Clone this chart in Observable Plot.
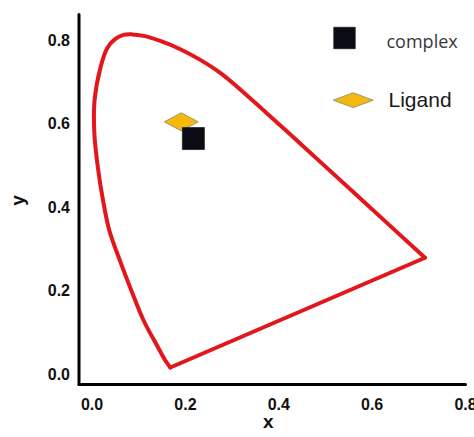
<!DOCTYPE html>
<html>
<head>
<meta charset="utf-8">
<script src="https://cdn.jsdelivr.net/npm/d3@7"></script>
<script src="https://cdn.jsdelivr.net/npm/@observablehq/plot@0.6"></script>
<style>
  html, body { margin: 0; padding: 0; background: #fff; }
  #chart svg { display: block; }
</style>
</head>
<body>
<div id="chart"></div>
<script>
// Spectral locus outline, from the blue corner up the left side,
// over the top, down to the red corner
const locusX = [0.1676, 0.1569, 0.1391, 0.1104, 0.0841, 0.0595, 0.0370, 0.0235, 0.0124, 0.0049, 0.0053, 0.0178, 0.0321, 0.0499, 0.0676, 0.0856, 0.1104, 0.1462, 0.1890, 0.2318, 0.2746, 0.3174, 0.4458, 0.5742, 0.7132];
const locusY = [0.0168, 0.0335, 0.0695, 0.1293, 0.2012, 0.2731, 0.3449, 0.4168, 0.4958, 0.5772, 0.6563, 0.7341, 0.7808, 0.8036, 0.8132, 0.8144, 0.8108, 0.7988, 0.7789, 0.7533, 0.7222, 0.6826, 0.5531, 0.4218, 0.2795];

const seriesNames = ["Ligand", "complex"];
const seriesX = [0.191, 0.217];
const seriesY = [0.605, 0.565];

const xTicks = [0.0, 0.2, 0.4, 0.6, 0.8];
const yTicks = [0.0, 0.2, 0.4, 0.6, 0.8];
const xDomain = [-0.028, 0.8];
const yDomain = [-0.024, 0.862];

const locus = locusX.map((x, i) => ({x, y: locusY[i]}));
const closing = [locus[locus.length - 1], locus[0]];
const points = seriesNames.map((name, i) => ({name, x: seriesX[i], y: seriesY[i]}));

function flatDiamond(k) {
  return {
    draw(context, size) {
      const r = Math.sqrt(size / Math.PI);
      context.moveTo(-r, 0);
      context.lineTo(0, -r * k);
      context.lineTo(r, 0);
      context.lineTo(0, r * k);
      context.closePath();
    }
  };
}

const diamondFill = "#f5b80c";
const diamondStroke = "#9c9870";
const squareFill = "#0b0b16";
const red = "#e3161c";

const chart = Plot.plot({
  width: 474,
  height: 437,
  marginLeft: 78.5,
  marginRight: 9,
  marginTop: 14,
  marginBottom: 53,
  style: {fontFamily: "'Liberation Sans', Arial, sans-serif", background: "#fff", color: "#111"},
  x: {domain: xDomain},
  y: {domain: yDomain},
  marks: [
    Plot.axisX(xTicks, {tickSize: 0, tickPadding: 14, tickFormat: d3.format(".1f"), fontSize: 16, fontWeight: "bold", label: null}),
    Plot.axisY(yTicks, {tickSize: 0, tickPadding: 9, tickFormat: d3.format(".1f"), fontSize: 16, fontWeight: "bold", label: null}),
    Plot.line([[xDomain[0], yDomain[0]], [xDomain[0], yDomain[1]]], {stroke: "#000", strokeWidth: 3}),
    Plot.line([[xDomain[0], yDomain[0]], [xDomain[1], yDomain[0]]], {stroke: "#000", strokeWidth: 3}),
    Plot.line(locus, {x: "x", y: "y", curve: "catmull-rom", stroke: red, strokeWidth: 4, strokeLinejoin: "round", strokeLinecap: "round"}),
    Plot.line(closing, {x: "x", y: "y", stroke: red, strokeWidth: 4, strokeLinecap: "round"}),
    Plot.dot(points.filter(d => d.name === "Ligand"), {x: "x", y: "y", symbol: flatDiamond(0.53), r: 17, fill: diamondFill, stroke: diamondStroke, strokeWidth: 1}),
    Plot.dot(points.filter(d => d.name === "complex"), {x: "x", y: "y", symbol: "square", r: 12.4, fill: squareFill, stroke: "#222", strokeWidth: 0.8}),
    // legend
    Plot.dot([0], {frameAnchor: "top-left", dx: 265.5, dy: 23.5, symbol: "square", r: 12.1, fill: squareFill, stroke: "#222", strokeWidth: 0.8}),
    Plot.text(["complex"], {frameAnchor: "top-left", dx: 307.5, dy: 33, textAnchor: "start", lineAnchor: "bottom", fontSize: 18, fill: "#383838", fontFamily: "'Open Sans', sans-serif", letterSpacing: "0.3px"}),
    Plot.dot([0], {frameAnchor: "top-left", dx: 274.2, dy: 85.7, symbol: flatDiamond(0.37), r: 20, fill: diamondFill, stroke: diamondStroke, strokeWidth: 1}),
    Plot.text(["Ligand"], {frameAnchor: "top-left", dx: 309.5, dy: 92, textAnchor: "start", lineAnchor: "bottom", fontSize: 21, fill: "#1a1a1a", fontFamily: "'Liberation Sans', Arial, sans-serif"}),
    // axis titles
    Plot.text(["y"], {frameAnchor: "left", dx: -61.5, dy: 1, rotate: -90, textAnchor: "middle", lineAnchor: "middle", fontSize: 19, fontWeight: "bold", fill: "#111"}),
    Plot.text(["x"], {frameAnchor: "bottom", dx: -4, dy: 37.5, textAnchor: "middle", lineAnchor: "middle", fontSize: 19, fontWeight: "bold", fill: "#111"})
  ]
});

document.getElementById("chart").appendChild(chart);
</script>
</body>
</html>
